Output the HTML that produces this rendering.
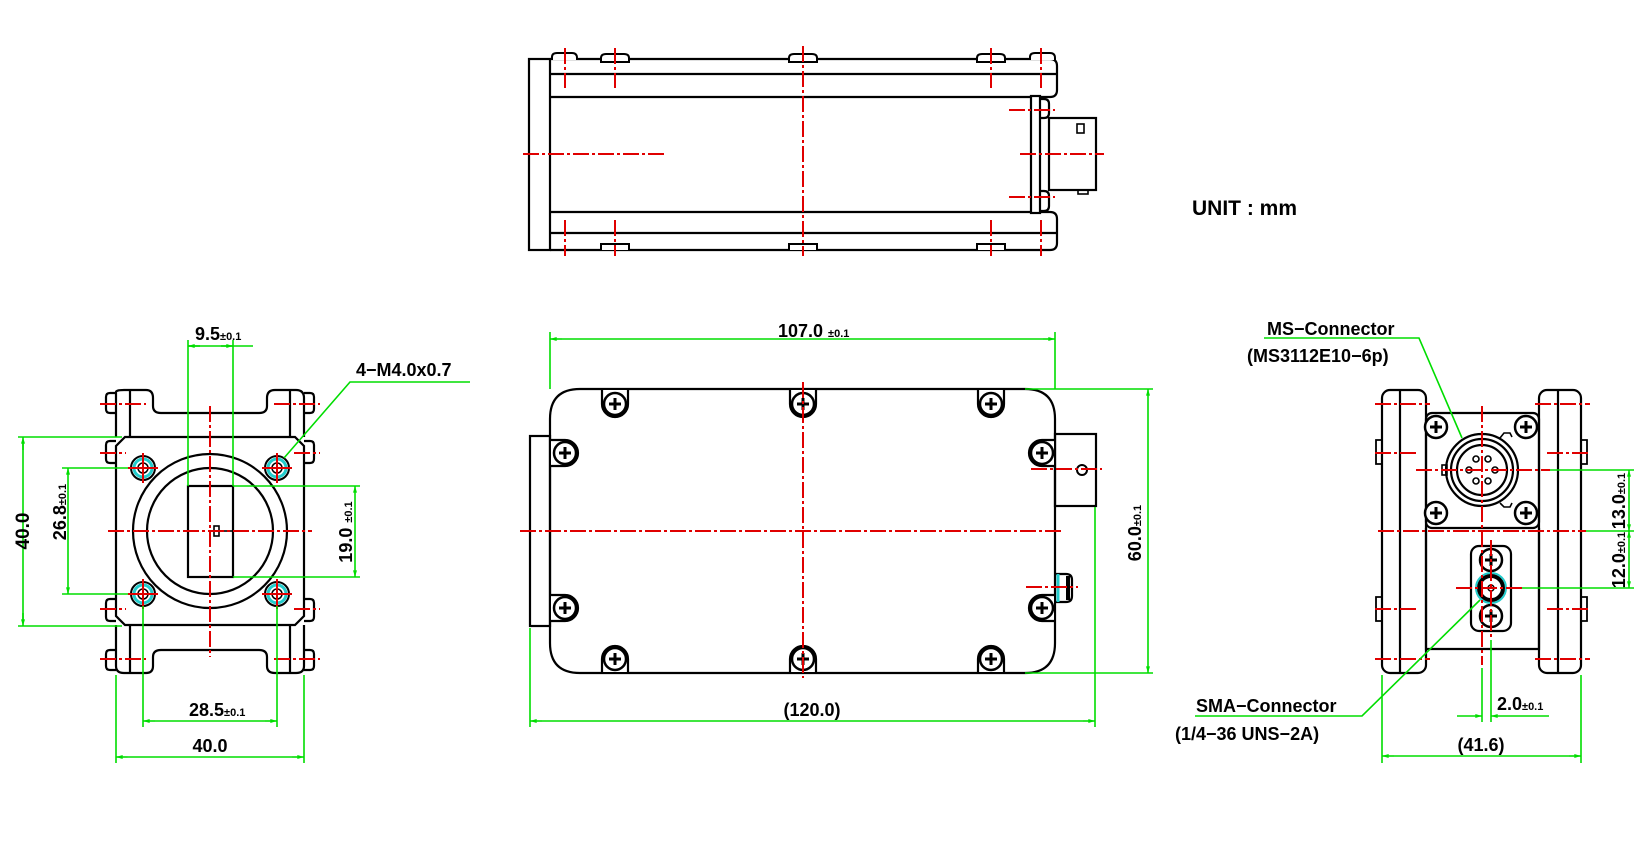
<!DOCTYPE html>
<html><head><meta charset="utf-8"><style>
html,body{margin:0;padding:0;background:#fff;}
svg{display:block;}
text{font-family:"Liberation Sans",Arial,sans-serif;font-weight:bold;fill:#000;}
</style></head><body>
<svg width="1634" height="844" viewBox="0 0 1634 844" xmlns="http://www.w3.org/2000/svg">
<defs>
<marker id="a" viewBox="0 0 10 6" refX="10" refY="3" markerWidth="8" markerHeight="4" orient="auto-start-reverse" markerUnits="userSpaceOnUse"><path d="M0,0 L10,3 L0,6 z" fill="#00dd00"/></marker>
<g id="scr"><circle r="11" fill="#fff" stroke="#000" stroke-width="2.5"/><path d="M-6,0 H6 M0,-6 V6" stroke="#000" stroke-width="3"/></g>
</defs>
<rect width="1634" height="844" fill="#fff"/>

<!-- ================= TOP VIEW ================= -->
<g fill="none" stroke="#000" stroke-width="2.2">
<rect x="529" y="59" width="21" height="191"/>
<path d="M550,59 H1050 Q1057,59 1057,66 V90 Q1057,97 1050,97 H1040"/>
<path d="M550,250 H1050 Q1057,250 1057,243 V219 Q1057,212 1050,212 H1040"/>
<line x1="550" y1="74" x2="1057" y2="74"/>
<line x1="550" y1="233" x2="1057" y2="233"/>
<line x1="550" y1="97" x2="1031" y2="97"/>
<line x1="550" y1="212" x2="1031" y2="212"/>
<rect x="1031" y="96" width="9" height="117"/>
<path d="M1040,99 H1044 Q1049,99 1049,104 V113 Q1049,118 1044,118 H1040"/>
<path d="M1040,191 H1044 Q1049,191 1049,196 V206 Q1049,211 1044,211 H1040"/>
<rect x="1049" y="118" width="47" height="72"/>
<rect x="1077" y="124" width="7" height="9" stroke-width="1.6"/>
<rect x="1078" y="190" width="10" height="4" stroke-width="1.6"/>
</g>
<g fill="#fff" stroke="#000" stroke-width="2">
<path d="M552,60 V57 Q552,53 557,53 H572 Q577,53 577,58 V60"/>
<path d="M601,62 V58 Q601,54 606,54 H624 Q629,54 629,58 V62 Z"/>
<path d="M789,62 V58 Q789,54 794,54 H812 Q817,54 817,58 V62 Z"/>
<path d="M977,62 V58 Q977,54 982,54 H1000 Q1005,54 1005,58 V62 Z"/>
<path d="M1030,60 V57 Q1030,53 1035,53 H1050 Q1055,53 1055,58 V60"/>
<path d="M601,250 V244 H629 V250"/>
<path d="M789,250 V244 H817 V250"/>
<path d="M977,250 V244 H1005 V250"/>
</g>
<g stroke="#e00000" stroke-width="2" fill="none" stroke-dasharray="16 3 3 3">
<line x1="565" y1="48" x2="565" y2="88"/><line x1="615" y1="48" x2="615" y2="88"/>
<line x1="991" y1="48" x2="991" y2="88"/><line x1="1041" y1="48" x2="1041" y2="88"/>
<line x1="565" y1="220" x2="565" y2="256"/><line x1="615" y1="220" x2="615" y2="256"/>
<line x1="991" y1="220" x2="991" y2="256"/><line x1="1041" y1="220" x2="1041" y2="256"/>
<line x1="803" y1="46" x2="803" y2="256"/>
<line x1="523" y1="154" x2="666" y2="154"/>
<line x1="1020" y1="154" x2="1104" y2="154"/>
<line x1="1009" y1="110" x2="1055" y2="110"/>
<line x1="1009" y1="197" x2="1055" y2="197"/>
</g>
<text x="1192" y="215" font-size="21">UNIT : mm</text>

<!-- ================= LEFT (FRONT) VIEW ================= -->
<g fill="none" stroke="#000" stroke-width="2.2">
<path d="M116,437 V392 Q116,390 124,390 H146 Q153,390 153,398 V406 Q153,413 161,413 H259 Q267,413 267,406 V398 Q267,390 275,390 H296 Q304,390 304,398 V437"/>
<path d="M116,625 V666 Q116,673 124,673 H146 Q153,673 153,666 V657 Q153,650 161,650 H259 Q267,650 267,657 V666 Q267,673 275,673 H296 Q304,673 304,666 V625"/>
<path d="M125,437 H295 L304,446 V616 L295,625 H125 L116,616 V446 Z"/>
<line x1="130" y1="390" x2="130" y2="437"/><line x1="290" y1="390" x2="290" y2="437"/>
<line x1="130" y1="625" x2="130" y2="673"/><line x1="290" y1="625" x2="290" y2="673"/>
<path d="M116,393 H110 Q106,393 106,397 V409 Q106,413 110,413 H116"/>
<path d="M304,393 H310 Q314,393 314,397 V409 Q314,413 310,413 H304"/>
<path d="M116,441 H110 Q106,441 106,445 V459 Q106,463 110,463 H116"/>
<path d="M304,441 H310 Q314,441 314,445 V459 Q314,463 310,463 H304"/>
<path d="M116,599 H110 Q106,599 106,603 V617 Q106,621 110,621 H116"/>
<path d="M304,599 H310 Q314,599 314,603 V617 Q314,621 310,621 H304"/>
<path d="M116,650 H110 Q106,650 106,654 V666 Q106,670 110,670 H116"/>
<path d="M304,650 H310 Q314,650 314,654 V666 Q314,670 310,670 H304"/>
<circle cx="210" cy="531" r="77"/>
<circle cx="210" cy="531" r="63"/>
<rect x="188" y="486" width="45" height="91"/>
<rect x="214" y="526" width="5" height="10" stroke-width="1.6"/>
<line x1="219" y1="531" x2="232" y2="531" stroke-width="1.6"/>
</g>
<g>
<circle cx="143" cy="468" r="12" fill="#fff" stroke="#000" stroke-width="2"/><circle cx="143" cy="468" r="9" fill="none" stroke="#22cccc" stroke-width="3"/><circle cx="143" cy="468" r="5" fill="none" stroke="#000" stroke-width="1.5"/>
<circle cx="277" cy="468" r="12" fill="#fff" stroke="#000" stroke-width="2"/><circle cx="277" cy="468" r="9" fill="none" stroke="#22cccc" stroke-width="3"/><circle cx="277" cy="468" r="5" fill="none" stroke="#000" stroke-width="1.5"/>
<circle cx="143" cy="594" r="12" fill="#fff" stroke="#000" stroke-width="2"/><circle cx="143" cy="594" r="9" fill="none" stroke="#22cccc" stroke-width="3"/><circle cx="143" cy="594" r="5" fill="none" stroke="#000" stroke-width="1.5"/>
<circle cx="277" cy="594" r="12" fill="#fff" stroke="#000" stroke-width="2"/><circle cx="277" cy="594" r="9" fill="none" stroke="#22cccc" stroke-width="3"/><circle cx="277" cy="594" r="5" fill="none" stroke="#000" stroke-width="1.5"/>
</g>
<g stroke="#e00000" stroke-width="2" fill="none" stroke-dasharray="16 3 3 3">
<line x1="210" y1="406" x2="210" y2="657"/>
<line x1="108" y1="531" x2="312" y2="531"/>
<line x1="100" y1="404" x2="146" y2="404"/><line x1="274" y1="404" x2="320" y2="404"/>
<line x1="100" y1="453" x2="126" y2="453"/><line x1="294" y1="453" x2="320" y2="453"/>
<line x1="100" y1="609" x2="126" y2="609"/><line x1="294" y1="609" x2="320" y2="609"/>
<line x1="100" y1="659" x2="146" y2="659"/><line x1="274" y1="659" x2="320" y2="659"/>
</g>
<g stroke="#e00000" stroke-width="2">
<path d="M128,468 H158 M143,453 V483 M262,468 H292 M277,453 V483 M128,594 H158 M143,579 V609 M262,594 H292 M277,579 V609"/>
</g>
<g stroke="#00dd00" stroke-width="1.6" fill="none">
<line x1="188" y1="340" x2="188" y2="486"/><line x1="233" y1="340" x2="233" y2="486"/>
<line x1="188" y1="346" x2="253" y2="346"/>
<line x1="200" y1="346" x2="188" y2="346" marker-end="url(#a)"/>
<line x1="221" y1="346" x2="233" y2="346" marker-end="url(#a)"/>
<polyline points="284,458 350,382 470,382"/>
<line x1="18" y1="437" x2="122" y2="437"/><line x1="18" y1="626" x2="122" y2="626"/>
<line x1="23" y1="440" x2="23" y2="623"/>
<line x1="23" y1="450" x2="23" y2="437" marker-end="url(#a)"/><line x1="23" y1="613" x2="23" y2="626" marker-end="url(#a)"/>
<line x1="62" y1="468" x2="128" y2="468"/><line x1="62" y1="594" x2="128" y2="594"/>
<line x1="68" y1="480" x2="68" y2="468" marker-end="url(#a)"/><line x1="68" y1="582" x2="68" y2="594" marker-end="url(#a)"/><line x1="68" y1="480" x2="68" y2="582"/>
<line x1="233" y1="486" x2="360" y2="486"/><line x1="233" y1="577" x2="360" y2="577"/>
<line x1="355" y1="498" x2="355" y2="486" marker-end="url(#a)"/><line x1="355" y1="565" x2="355" y2="577" marker-end="url(#a)"/><line x1="355" y1="498" x2="355" y2="565"/>
<line x1="143" y1="606" x2="143" y2="727"/><line x1="277" y1="606" x2="277" y2="727"/>
<line x1="155" y1="721" x2="143" y2="721" marker-end="url(#a)"/><line x1="265" y1="721" x2="277" y2="721" marker-end="url(#a)"/><line x1="155" y1="721" x2="265" y2="721"/>
<line x1="116" y1="675" x2="116" y2="763"/><line x1="304" y1="675" x2="304" y2="763"/>
<line x1="128" y1="757" x2="116" y2="757" marker-end="url(#a)"/><line x1="292" y1="757" x2="304" y2="757" marker-end="url(#a)"/><line x1="128" y1="757" x2="292" y2="757"/>
</g>
<text x="195" y="340" font-size="18">9.5<tspan font-size="11">±0.1</tspan></text>
<text x="356" y="376" font-size="18">4−M4.0x0.7</text>
<text transform="translate(29,531) rotate(-90)" text-anchor="middle" font-size="19">40.0</text>
<text transform="translate(66,512) rotate(-90)" text-anchor="middle" font-size="18">26.8<tspan font-size="11">±0.1</tspan></text>
<text transform="translate(352,532) rotate(-90)" text-anchor="middle" font-size="18">19.0 <tspan font-size="11">±0.1</tspan></text>
<text x="189" y="716" font-size="18">28.5<tspan font-size="11">±0.1</tspan></text>
<text x="210" y="752" text-anchor="middle" font-size="18">40.0</text>

<!-- ================= SIDE VIEW ================= -->
<g fill="none" stroke="#000" stroke-width="2.2">
<rect x="530" y="436" width="20" height="190"/>
<path d="M580,389 H1025 Q1055,389 1055,419 V643 Q1055,673 1025,673 H580 Q550,673 550,643 V419 Q550,389 580,389 Z"/>
<rect x="1055" y="434" width="41" height="72"/>
<circle cx="1082" cy="470" r="5" stroke-width="2"/>
<path d="M1055,574 H1066 Q1072,574 1072,580 V596 Q1072,602 1066,602 H1055"/>
</g>
<path d="M1058,574 V602" stroke="#22cccc" stroke-width="3"/>
<path d="M1068,576 V600" stroke="#000" stroke-width="4"/>
<g stroke="#000" stroke-width="2.2" fill="#fff">
<path d="M602,390 V404 A13,13 0 0 0 628,404 V390"/>
<path d="M790,390 V404 A13,13 0 0 0 816,404 V390"/>
<path d="M978,390 V404 A13,13 0 0 0 1004,404 V390"/>
<path d="M602,672 V659 A13,13 0 0 1 628,659 V672"/>
<path d="M790,672 V659 A13,13 0 0 1 816,659 V672"/>
<path d="M978,672 V659 A13,13 0 0 1 1004,659 V672"/>
<path d="M551,440 H565 A13,13 0 0 1 565,466 H551"/>
<path d="M551,595 H565 A13,13 0 0 1 565,621 H551"/>
<path d="M1054,440 H1042 A13,13 0 0 0 1042,466 H1054"/>
<path d="M1054,595 H1042 A13,13 0 0 0 1042,621 H1054"/>
</g>
<use href="#scr" x="615" y="404"/><use href="#scr" x="803" y="404"/><use href="#scr" x="991" y="404"/>
<use href="#scr" x="615" y="659"/><use href="#scr" x="803" y="659"/><use href="#scr" x="991" y="659"/>
<use href="#scr" x="565" y="453"/><use href="#scr" x="565" y="608"/>
<use href="#scr" x="1042" y="453"/><use href="#scr" x="1042" y="608"/>
<g stroke="#e00000" stroke-width="2" fill="none" stroke-dasharray="16 3 3 3">
<line x1="803" y1="382" x2="803" y2="678"/>
<line x1="520" y1="531" x2="1063" y2="531"/>
<line x1="1031" y1="469" x2="1102" y2="469"/>
<line x1="1026" y1="587" x2="1078" y2="587"/>
</g>
<g stroke="#00dd00" stroke-width="1.6" fill="none">
<line x1="550" y1="332" x2="550" y2="389"/><line x1="1055" y1="332" x2="1055" y2="389"/>
<line x1="562" y1="339" x2="550" y2="339" marker-end="url(#a)"/><line x1="1043" y1="339" x2="1055" y2="339" marker-end="url(#a)"/><line x1="562" y1="339" x2="1043" y2="339"/>
<line x1="1025" y1="389" x2="1153" y2="389"/><line x1="1025" y1="673" x2="1153" y2="673"/>
<line x1="1148" y1="401" x2="1148" y2="389" marker-end="url(#a)"/><line x1="1148" y1="661" x2="1148" y2="673" marker-end="url(#a)"/><line x1="1148" y1="401" x2="1148" y2="661"/>
<line x1="530" y1="628" x2="530" y2="727"/><line x1="1095" y1="507" x2="1095" y2="727"/>
<line x1="542" y1="721" x2="530" y2="721" marker-end="url(#a)"/><line x1="1083" y1="721" x2="1095" y2="721" marker-end="url(#a)"/><line x1="542" y1="721" x2="1083" y2="721"/>
</g>
<text x="778" y="337" font-size="18">107.0 <tspan font-size="11">±0.1</tspan></text>
<text transform="translate(1141,533) rotate(-90)" text-anchor="middle" font-size="18">60.0<tspan font-size="11">±0.1</tspan></text>
<text x="812" y="716" text-anchor="middle" font-size="18">(120.0)</text>

<!-- ================= RIGHT (REAR) VIEW ================= -->
<g fill="none" stroke="#000" stroke-width="2.2">
<rect x="1382" y="390" width="44" height="283" rx="8"/>
<line x1="1400" y1="390" x2="1400" y2="673"/>
<rect x="1539" y="390" width="42" height="283" rx="8"/>
<line x1="1558" y1="390" x2="1558" y2="673"/>
<rect x="1426" y="413" width="113" height="115" rx="6"/>
<path d="M1426,528 V649 H1539 V528"/>
<path d="M1376,440 h6 v24 h-6 z M1376,597 h6 v24 h-6 z M1581,440 h6 v24 h-6 z M1581,597 h6 v24 h-6 z" stroke-width="1.8"/>
<circle cx="1482" cy="470" r="36"/>
<circle cx="1482" cy="470" r="31"/>
<circle cx="1482" cy="470" r="25"/>
<rect x="1442" y="465" width="5" height="10" stroke-width="1.6"/>
<path d="M1500,438 l4,-5 h6 l2,4 M1500,503 l4,4 h6 l2,-4" stroke-width="1.6"/>
<rect x="1471" y="546" width="40" height="85" rx="8"/>
</g>
<g fill="none" stroke="#000" stroke-width="1.6">
<circle cx="1476" cy="459" r="3"/><circle cx="1488" cy="459" r="3"/>
<circle cx="1469" cy="470" r="3"/><circle cx="1495" cy="470" r="3"/>
<circle cx="1476" cy="481" r="3"/><circle cx="1488" cy="481" r="3"/>
</g>
<use href="#scr" x="1436" y="427"/><use href="#scr" x="1526" y="427"/>
<use href="#scr" x="1436" y="513"/><use href="#scr" x="1526" y="513"/>
<use href="#scr" x="1491" y="560"/><use href="#scr" x="1491" y="616"/>
<circle cx="1491" cy="588" r="15" fill="#fff" stroke="#22cccc" stroke-width="2"/>
<circle cx="1491" cy="588" r="12" fill="#fff" stroke="#000" stroke-width="4"/>
<circle cx="1491" cy="588" r="3" fill="none" stroke="#000" stroke-width="1.5"/>
<g stroke="#e00000" stroke-width="2" fill="none" stroke-dasharray="16 3 3 3">
<line x1="1375" y1="404" x2="1430" y2="404"/><line x1="1535" y1="404" x2="1590" y2="404"/>
<line x1="1375" y1="453" x2="1418" y2="453"/><line x1="1547" y1="453" x2="1590" y2="453"/>
<line x1="1375" y1="609" x2="1418" y2="609"/><line x1="1547" y1="609" x2="1590" y2="609"/>
<line x1="1375" y1="659" x2="1430" y2="659"/><line x1="1535" y1="659" x2="1590" y2="659"/>
<line x1="1416" y1="470" x2="1550" y2="470"/>
<line x1="1378" y1="531" x2="1586" y2="531"/>
<line x1="1456" y1="588" x2="1522" y2="588"/>
<line x1="1482" y1="406" x2="1482" y2="665"/>
<line x1="1491" y1="540" x2="1491" y2="640"/>
</g>
<g stroke="#00dd00" stroke-width="1.6" fill="none">
<polyline points="1264,338 1419,338 1462,438"/>
<polyline points="1195,716 1362,716 1480,600"/>
<line x1="1550" y1="470" x2="1634" y2="470"/>
<line x1="1586" y1="531" x2="1634" y2="531"/>
<line x1="1522" y1="588" x2="1634" y2="588"/>
<line x1="1629" y1="482" x2="1629" y2="470" marker-end="url(#a)"/><line x1="1629" y1="519" x2="1629" y2="531" marker-end="url(#a)"/><line x1="1629" y1="482" x2="1629" y2="519"/>
<line x1="1629" y1="543" x2="1629" y2="531" marker-end="url(#a)"/><line x1="1629" y1="576" x2="1629" y2="588" marker-end="url(#a)"/><line x1="1629" y1="543" x2="1629" y2="576"/>
<line x1="1482" y1="668" x2="1482" y2="722"/><line x1="1491" y1="640" x2="1491" y2="722"/>
<line x1="1457" y1="716" x2="1482" y2="716" marker-end="url(#a)"/><line x1="1549" y1="716" x2="1491" y2="716" marker-end="url(#a)"/>
<line x1="1382" y1="675" x2="1382" y2="763"/><line x1="1581" y1="675" x2="1581" y2="763"/>
<line x1="1394" y1="756" x2="1382" y2="756" marker-end="url(#a)"/><line x1="1569" y1="756" x2="1581" y2="756" marker-end="url(#a)"/><line x1="1394" y1="756" x2="1569" y2="756"/>
</g>
<text x="1267" y="335" font-size="18">MS−Connector</text>
<text x="1247" y="362" font-size="18">(MS3112E10−6p)</text>
<text x="1196" y="712" font-size="18">SMA−Connector</text>
<text x="1175" y="740" font-size="18">(1/4−36 UNS−2A)</text>
<text transform="translate(1625,501) rotate(-90)" text-anchor="middle" font-size="18">13.0<tspan font-size="11">±0.1</tspan></text>
<text transform="translate(1625,560) rotate(-90)" text-anchor="middle" font-size="18">12.0<tspan font-size="11">±0.1</tspan></text>
<text x="1497" y="710" font-size="18">2.0<tspan font-size="11">±0.1</tspan></text>
<text x="1481" y="751" text-anchor="middle" font-size="18">(41.6)</text>
</svg>
</body></html>
